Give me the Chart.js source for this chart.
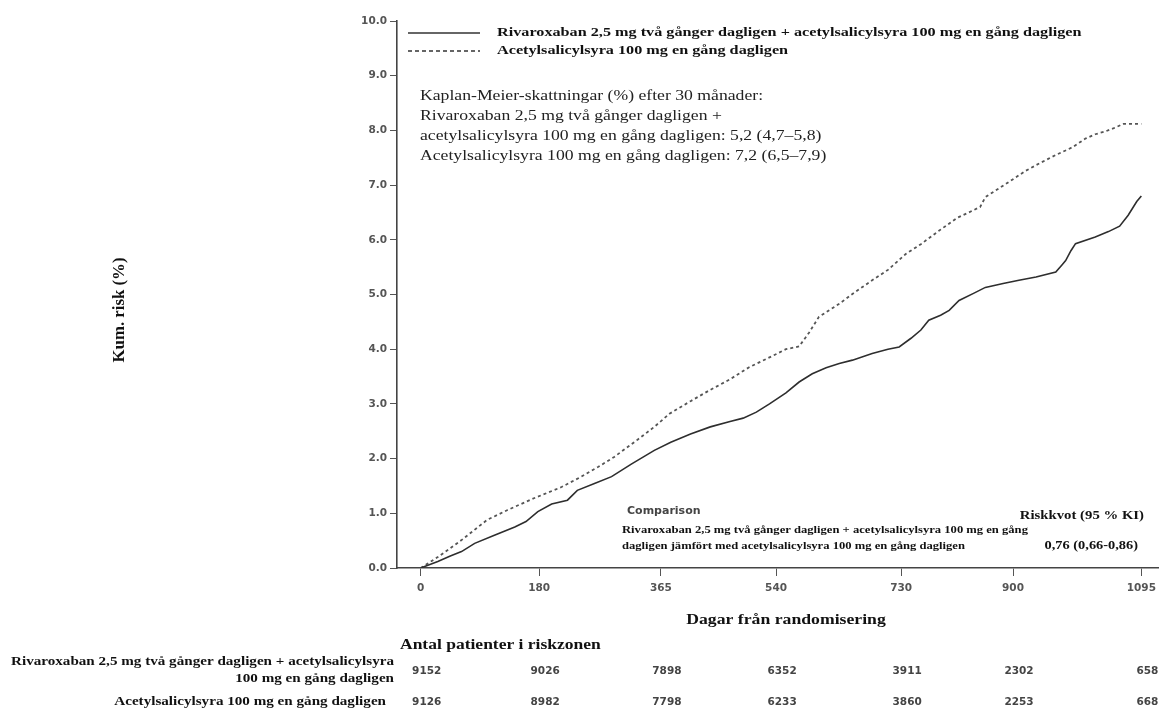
<!DOCTYPE html>
<html>
<head>
<meta charset="utf-8">
<script src="https://cdn.jsdelivr.net/npm/chart.js@4/dist/chart.umd.min.js"></script>
<style>
  html, body { margin: 0; padding: 0; background: #fff; }
  #km { display: block; }
</style>
</head>
<body>
<canvas id="km" width="1162" height="710"></canvas>
<script>
// values (days, cumulative risk %)
var rivaDays = [0, 26, 45, 62, 82, 112, 143, 160, 178, 199, 223, 238, 265, 290, 320, 355, 380, 410, 440, 470, 490, 510, 530, 555, 575, 595, 616, 636, 656, 686, 710, 727, 745, 760, 772, 790, 803, 818, 840, 858, 885, 909, 935, 965, 975, 980, 988, 995, 1025, 1045, 1062, 1075, 1088, 1095];
var rivaRisk = [0, 0.12, 0.22, 0.30, 0.45, 0.60, 0.75, 0.85, 1.03, 1.17, 1.24, 1.42, 1.55, 1.67, 1.90, 2.15, 2.30, 2.45, 2.58, 2.68, 2.74, 2.85, 3.00, 3.20, 3.40, 3.55, 3.66, 3.74, 3.80, 3.92, 4.00, 4.04, 4.20, 4.35, 4.53, 4.62, 4.71, 4.89, 5.02, 5.13, 5.20, 5.26, 5.32, 5.41, 5.55, 5.62, 5.80, 5.93, 6.05, 6.15, 6.25, 6.45, 6.70, 6.80];

var asaDays = [0, 26, 62, 101, 132, 173, 214, 244, 270, 294, 330, 355, 378, 410, 439, 470, 499, 530, 555, 575, 590, 605, 636, 656, 686, 710, 737, 760, 788, 815, 838, 850, 858, 889, 919, 939, 965, 990, 1010, 1025, 1040, 1055, 1068, 1095];
var asaRisk = [0, 0.20, 0.51, 0.88, 1.06, 1.28, 1.48, 1.67, 1.85, 2.03, 2.35, 2.58, 2.82, 3.05, 3.25, 3.45, 3.67, 3.85, 4.00, 4.05, 4.30, 4.59, 4.83, 5.01, 5.26, 5.45, 5.74, 5.92, 6.17, 6.40, 6.53, 6.60, 6.78, 7.02, 7.26, 7.39, 7.55, 7.69, 7.85, 7.93, 7.98, 8.05, 8.12, 8.12];

var xTicks = [0, 180, 365, 540, 730, 900, 1095];
var atRiskRiva = ["9152", "9026", "7898", "6352", "3911", "2302", "658"];
var atRiskAsa = ["9126", "8982", "7798", "6233", "3860", "2253", "668"];

var rivaLabel = "Rivaroxaban 2,5 mg två gånger dagligen + acetylsalicylsyra 100 mg en gång dagligen";
var asaLabel = "Acetylsalicylsyra 100 mg en gång dagligen";

function toPoints(xs, ys) {
  return xs.map(function (d, i) { return { x: d, y: ys[i] }; });
}

var SERIF = "'Liberation Serif', 'Times New Roman', serif";
var SANS = "'DejaVu Sans', Verdana, sans-serif";

// text drawn a little wider than the font, like the scanned original
function txt(ctx, s, x, y, font, sx, align, color) {
  ctx.save();
  ctx.font = font;
  ctx.fillStyle = color || "#111";
  ctx.textAlign = align || "left";
  ctx.textBaseline = "middle";
  ctx.translate(x, y);
  ctx.scale(sx, 1);
  ctx.fillText(s, 0, 0);
  ctx.restore();
}

var textPlugin = {
  id: "kmText",
  afterDraw: function (chart) {
    var ctx = chart.ctx;
    var xs = chart.scales.x;

    // legend
    ctx.save();
    ctx.strokeStyle = "#333";
    ctx.lineWidth = 1.3;
    ctx.beginPath(); ctx.moveTo(408, 33); ctx.lineTo(480, 33); ctx.stroke();
    ctx.setLineDash([4, 3]);
    ctx.beginPath(); ctx.moveTo(408, 51); ctx.lineTo(480, 51); ctx.stroke();
    ctx.restore();
    txt(ctx, rivaLabel, 497, 33, "bold 13.5px " + SERIF, 1.2);
    txt(ctx, asaLabel, 497, 51, "bold 13.5px " + SERIF, 1.2);

    // Kaplan-Meier estimates
    var km = "15.5px " + SERIF;
    txt(ctx, "Kaplan-Meier-skattningar (%) efter 30 månader:", 420, 96, km, 1.14, "left", "#222");
    txt(ctx, "Rivaroxaban 2,5 mg två gånger dagligen +", 420, 116, km, 1.14, "left", "#222");
    txt(ctx, "acetylsalicylsyra 100 mg en gång dagligen: 5,2 (4,7–5,8)", 420, 136, km, 1.14, "left", "#222");
    txt(ctx, "Acetylsalicylsyra 100 mg en gång dagligen: 7,2 (6,5–7,9)", 420, 156, km, 1.14, "left", "#222");

    // hazard ratio box
    txt(ctx, "Comparison", 627, 511, "bold 10px " + SANS, 1.1, "left", "#444");
    txt(ctx, "Riskkvot (95 % KI)", 1144, 516, "bold 12.5px " + SERIF, 1.18, "right");
    txt(ctx, "0,76 (0,66-0,86)", 1138, 546, "bold 12.5px " + SERIF, 1.15, "right");
    txt(ctx, "Rivaroxaban 2,5 mg två gånger dagligen + acetylsalicylsyra 100 mg en gång", 622, 530, "bold 10.5px " + SERIF, 1.2);
    txt(ctx, "dagligen jämfört med acetylsalicylsyra 100 mg en gång dagligen", 622, 546, "bold 10.5px " + SERIF, 1.2);

    // axis titles
    txt(ctx, "Dagar från randomisering", 786, 620, "bold 15px " + SERIF, 1.18, "center");
    ctx.save();
    ctx.translate(120, 310);
    ctx.rotate(-Math.PI / 2);
    txt(ctx, "Kum. risk (%)", 0, 0, "bold 16px " + SERIF, 1.05, "center");
    ctx.restore();

    // numbers at risk
    txt(ctx, "Antal patienter i riskzonen", 400, 645, "bold 14px " + SERIF, 1.25);
    var lab = "bold 12px " + SERIF;
    txt(ctx, "Rivaroxaban 2,5 mg två gånger dagligen + acetylsalicylsyra", 394, 662, lab, 1.26, "right");
    txt(ctx, "100 mg en gång dagligen", 394, 679, lab, 1.26, "right");
    txt(ctx, asaLabel, 386, 702, lab, 1.26, "right");
    xTicks.forEach(function (d, i) {
      var px = xs.getPixelForValue(d) + 6;
      txt(ctx, atRiskRiva[i], px, 671, "bold 10.5px " + SANS, 1.0, "center", "#444");
      txt(ctx, atRiskAsa[i], px, 702, "bold 10.5px " + SANS, 1.0, "center", "#444");
    });
  }
};

var ctx = document.getElementById("km").getContext("2d");
var chart = new Chart(ctx, {
  type: "line",
  data: {
    datasets: [
      {
        label: rivaLabel,
        data: toPoints(rivaDays, rivaRisk),
        borderColor: "#2e2e2e",
        borderWidth: 1.6,
        pointRadius: 0,
        tension: 0
      },
      {
        label: asaLabel,
        data: toPoints(asaDays, asaRisk),
        borderColor: "#555",
        borderWidth: 1.8,
        borderDash: [3, 3],
        pointRadius: 0,
        tension: 0
      }
    ]
  },
  options: {
    responsive: false,
    animation: false,
    devicePixelRatio: 1,
    layout: { padding: { top: 21, right: 2, left: 0, bottom: 0 } },
    plugins: {
      legend: { display: false },
      tooltip: { enabled: false }
    },
    scales: {
      x: {
        type: "linear",
        min: -36,
        max: 1121,
        afterFit: function (s) { s.height = 142; },
        afterBuildTicks: function (s) {
          s.ticks = xTicks.map(function (v) { return { value: v }; });
        },
        ticks: {
          color: "#555",
          padding: 6,
          font: { family: SANS, size: 10.5, weight: "bold" },
          callback: function (v) { return v; }
        },
        grid: { drawOnChartArea: false, drawTicks: true, tickLength: 8, tickColor: "#555", tickWidth: 1 },
        border: { display: true, color: "#444", width: 1.6 }
      },
      y: {
        min: 0,
        max: 10,
        afterFit: function (s) { s.width = 397; },
        ticks: {
          stepSize: 1,
          color: "#555",
          padding: 3,
          font: { family: SANS, size: 10.5, weight: "bold" },
          callback: function (v) { return v.toFixed(1); }
        },
        grid: { drawOnChartArea: false, drawTicks: true, tickLength: 7, tickColor: "#555", tickWidth: 1 },
        border: { display: true, color: "#444", width: 1.6 }
      }
    }
  },
  plugins: [textPlugin]
});
</script>
</body>
</html>
